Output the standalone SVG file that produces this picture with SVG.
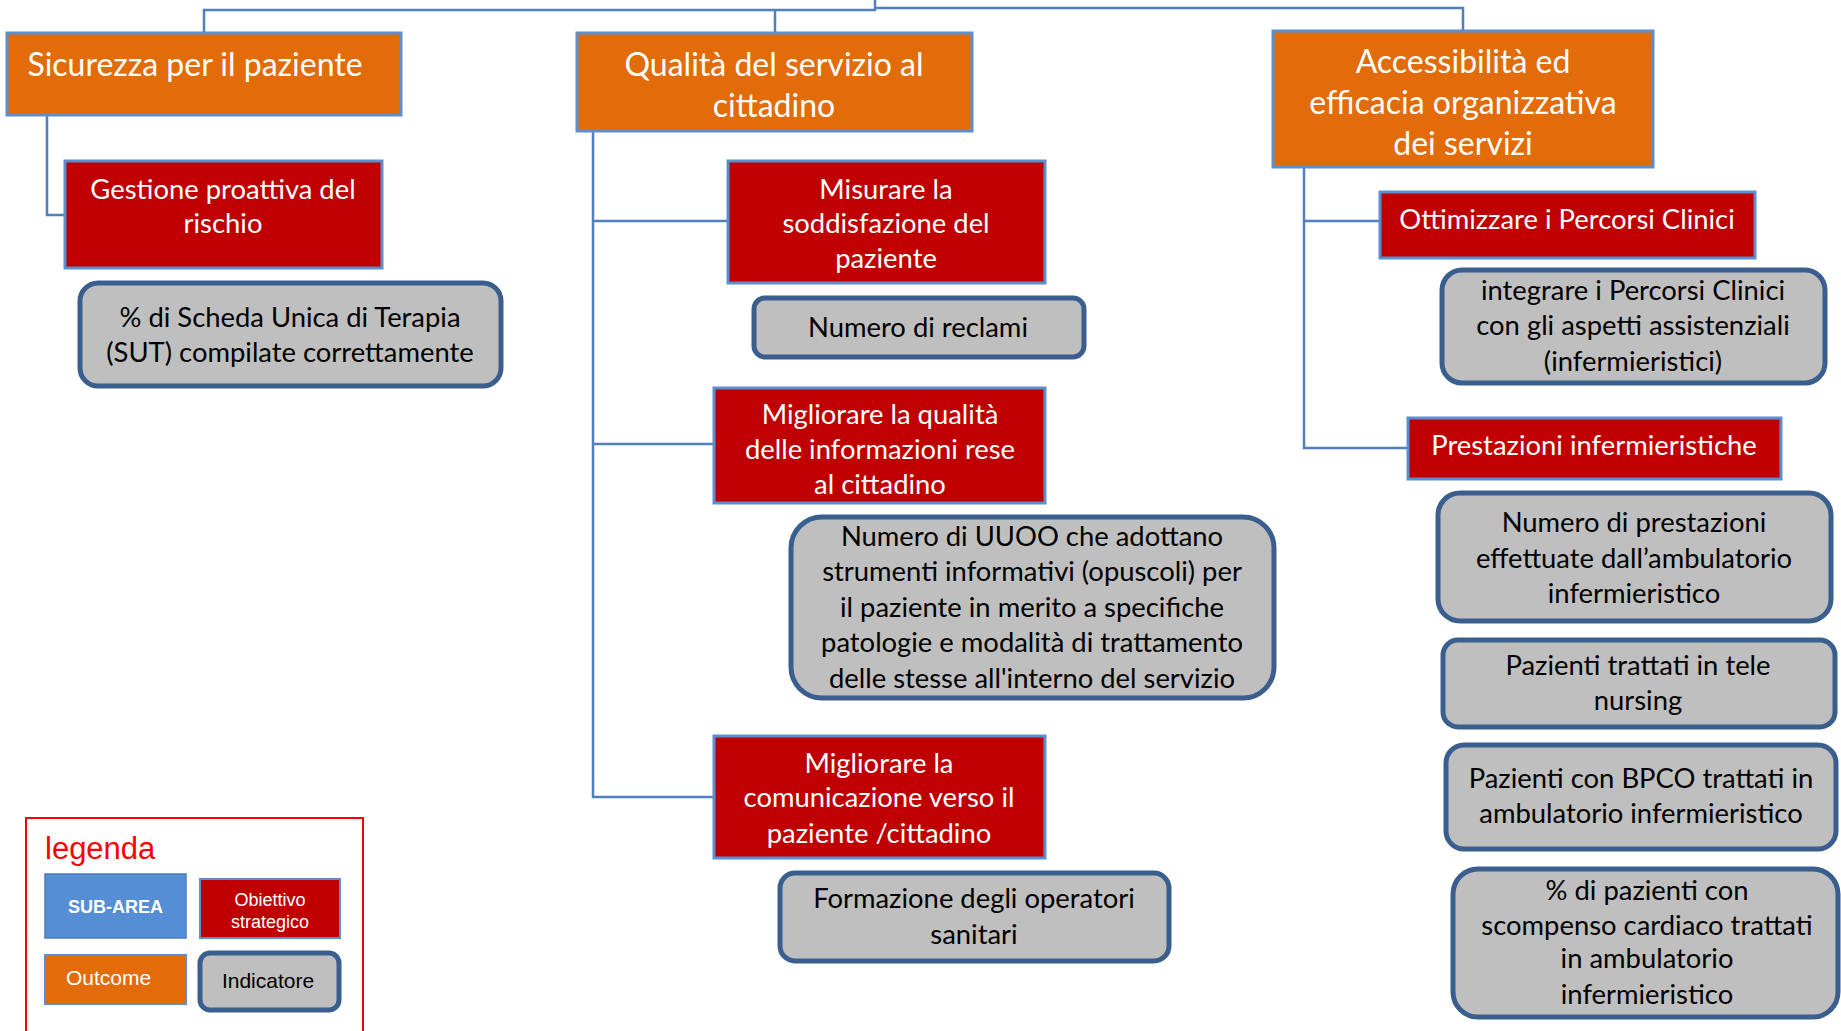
<svg xmlns="http://www.w3.org/2000/svg" width="1841" height="1031" viewBox="0 0 1841 1031">
  <style>
    .outcome { fill: #E36C0A; stroke: #5B8FCF; stroke-width: 3; }
    .goal { fill: #C00000; stroke: #5B8FCF; stroke-width: 3; }
    .ind { fill: #BFBFBF; stroke: #3A5F8E; stroke-width: 5; }
    .t-out { font-family: Lato, "Open Sans", sans-serif; font-size: 32px; fill: #FFFFFF; text-anchor: middle; }
    .t-goal { font-family: Lato, "Open Sans", sans-serif; font-size: 27.4px; fill: #FFFFFF; text-anchor: middle; }
    .t-ind { font-family: Lato, "Open Sans", sans-serif; font-size: 27.4px; fill: #000000; text-anchor: middle; }
    .link { fill: none; stroke: #4F81BD; stroke-width: 2.5; }
    .leg { font-family: "Liberation Sans", Arial, sans-serif; }
  </style>
  <rect width="1841" height="1031" fill="#FFFFFF"/>

  <!-- connectors -->
  <g id="connectors">
    <path class="link" d="M204,33 V10 H875 V0"/>
    <path class="link" d="M775,33 V10"/>
    <path class="link" d="M875,8 H1463 V31"/>
    <path class="link" d="M47,115 V215 H65"/>
    <path class="link" d="M593,131 V797 H713"/>
    <path class="link" d="M593,221 H728"/>
    <path class="link" d="M593,444 H714"/>
    <path class="link" d="M1304,167 V448 H1407"/>
    <path class="link" d="M1304,221 H1379"/>
  </g>

  <!-- outcome areas -->
  <g id="sicurezza">
    <rect class="outcome" x="7" y="33" width="394" height="82"/>
    <text class="t-out" x="195" y="76">Sicurezza per il paziente</text>
  </g>
  <g id="qualita">
    <rect class="outcome" x="577" y="33" width="395" height="98"/>
    <text class="t-out" x="774" y="76">Qualità del servizio al</text>
    <text class="t-out" x="774" y="117">cittadino</text>
  </g>
  <g id="accessibilita">
    <rect class="outcome" x="1273" y="31" width="380" height="136"/>
    <text class="t-out" x="1463" y="73">Accessibilità ed</text>
    <text class="t-out" x="1463" y="114">efficacia organizzativa</text>
    <text class="t-out" x="1463" y="155">dei servizi</text>
  </g>

  <!-- strategic goals -->
  <g id="gestione">
    <rect class="goal" x="65" y="161" width="317" height="107"/>
    <text class="t-goal" x="223" y="199">Gestione proattiva del</text>
    <text class="t-goal" x="223" y="233">rischio</text>
  </g>
  <g id="misurare">
    <rect class="goal" x="728" y="161" width="317" height="122"/>
    <text class="t-goal" x="886" y="199">Misurare la</text>
    <text class="t-goal" x="886" y="233">soddisfazione del</text>
    <text class="t-goal" x="886" y="268">paziente</text>
  </g>
  <g id="migliorare-info">
    <rect class="goal" x="714" y="388" width="331" height="115"/>
    <text class="t-goal" x="880" y="424">Migliorare la qualità</text>
    <text class="t-goal" x="880" y="459">delle informazioni rese</text>
    <text class="t-goal" x="880" y="494">al cittadino</text>
  </g>
  <g id="migliorare-comunicazione">
    <rect class="goal" x="714" y="736" width="331" height="122"/>
    <text class="t-goal" x="879" y="773">Migliorare la</text>
    <text class="t-goal" x="879" y="807">comunicazione verso il</text>
    <text class="t-goal" x="879" y="843">paziente /cittadino</text>
  </g>
  <g id="ottimizzare">
    <rect class="goal" x="1380" y="192" width="375" height="66"/>
    <text class="t-goal" x="1567" y="229">Ottimizzare i Percorsi Clinici</text>
  </g>
  <g id="prestazioni">
    <rect class="goal" x="1408" y="418" width="373" height="61"/>
    <text class="t-goal" x="1594" y="455">Prestazioni infermieristiche</text>
  </g>

  <!-- indicators -->
  <g id="ind-sut">
    <rect class="ind" x="80" y="283" width="421" height="103" rx="18"/>
    <text class="t-ind" x="290" y="327">% di Scheda Unica di Terapia</text>
    <text class="t-ind" x="290" y="362">(SUT) compilate correttamente</text>
  </g>
  <g id="ind-reclami">
    <rect class="ind" x="754" y="298" width="330" height="59" rx="11"/>
    <text class="t-ind" x="918" y="337">Numero di reclami</text>
  </g>
  <g id="ind-uuoo">
    <rect class="ind" x="791" y="517" width="483" height="181" rx="31"/>
    <text class="t-ind" x="1032" y="546">Numero di UUOO che adottano</text>
    <text class="t-ind" x="1032" y="581">strumenti informativi (opuscoli) per</text>
    <text class="t-ind" x="1032" y="617">il paziente in merito a specifiche</text>
    <text class="t-ind" x="1032" y="652">patologie e modalità di trattamento</text>
    <text class="t-ind" x="1032" y="688">delle stesse all'interno del servizio</text>
  </g>
  <g id="ind-formazione">
    <rect class="ind" x="780" y="873" width="389" height="88" rx="15"/>
    <text class="t-ind" x="974" y="908">Formazione degli operatori</text>
    <text class="t-ind" x="974" y="944">sanitari</text>
  </g>
  <g id="ind-integrare">
    <rect class="ind" x="1442" y="270" width="383" height="113" rx="20"/>
    <text class="t-ind" x="1633" y="300">integrare i Percorsi Clinici</text>
    <text class="t-ind" x="1633" y="335">con gli aspetti assistenziali</text>
    <text class="t-ind" x="1633" y="371">(infermieristici)</text>
  </g>
  <g id="ind-numero-prestazioni">
    <rect class="ind" x="1438" y="493" width="393" height="128" rx="22"/>
    <text class="t-ind" x="1634" y="532">Numero di prestazioni</text>
    <text class="t-ind" x="1634" y="568">effettuate dall’ambulatorio</text>
    <text class="t-ind" x="1634" y="603">infermieristico</text>
  </g>
  <g id="ind-telenursing">
    <rect class="ind" x="1443" y="640" width="392" height="87" rx="15"/>
    <text class="t-ind" x="1638" y="675">Pazienti trattati in tele</text>
    <text class="t-ind" x="1638" y="710">nursing</text>
  </g>
  <g id="ind-bpco">
    <rect class="ind" x="1446" y="745" width="390" height="104" rx="18"/>
    <text class="t-ind" x="1641" y="788">Pazienti con BPCO trattati in</text>
    <text class="t-ind" x="1641" y="823">ambulatorio infermieristico</text>
  </g>
  <g id="ind-scompenso">
    <rect class="ind" x="1453" y="869" width="385" height="148" rx="25"/>
    <text class="t-ind" x="1647" y="900">% di pazienti con</text>
    <text class="t-ind" x="1647" y="935">scompenso cardiaco trattati</text>
    <text class="t-ind" x="1647" y="968">in ambulatorio</text>
    <text class="t-ind" x="1647" y="1004">infermieristico</text>
  </g>

  <!-- legend -->
  <g id="legend">
    <rect x="26" y="818" width="337" height="220" fill="none" stroke="#FF0000" stroke-width="2"/>
    <text class="leg" x="45" y="859" font-size="31" fill="#FF0000">legenda</text>
    <rect x="45" y="874" width="141" height="64" fill="#558ED5" stroke="#4A7EBB" stroke-width="1.5"/>
    <text class="leg" x="115.5" y="913" font-size="18" font-weight="bold" fill="#FFFFFF" text-anchor="middle">SUB-AREA</text>
    <rect x="200" y="879" width="140" height="59" fill="#C00000" stroke="#5B8FCF" stroke-width="2"/>
    <text class="leg" x="270" y="906" font-size="18" fill="#FFFFFF" text-anchor="middle">Obiettivo</text>
    <text class="leg" x="270" y="928" font-size="18" fill="#FFFFFF" text-anchor="middle">strategico</text>
    <rect x="45" y="955" width="141" height="49" fill="#E36C0A" stroke="#5B8FCF" stroke-width="2"/>
    <text class="leg" x="66" y="985" font-size="21" fill="#FFFFFF">Outcome</text>
    <rect x="200" y="953" width="139" height="57" rx="10" fill="#BFBFBF" stroke="#3A5F8E" stroke-width="5"/>
    <text class="leg" x="268" y="988" font-size="21" fill="#000000" text-anchor="middle">Indicatore</text>
  </g>
</svg>
